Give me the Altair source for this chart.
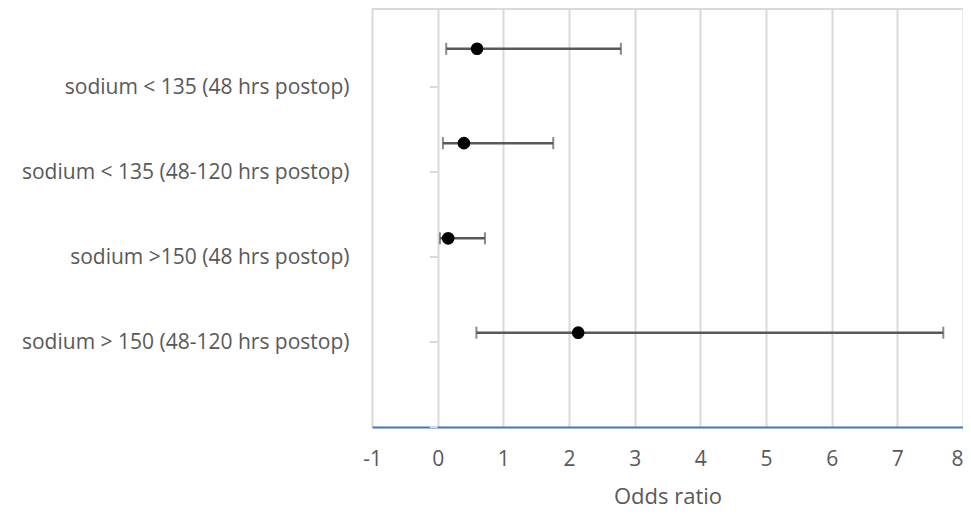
import altair as alt
import pandas as pd

categories = [
    "sodium < 135 (48 hrs postop)",
    "sodium < 135 (48-120 hrs postop)",
    "sodium >150 (48 hrs postop)",
    "sodium > 150 (48-120 hrs postop)",
]
label_pos = [4, 3, 2, 1]
odds = [0.60, 0.40, 0.16, 2.14]
lower = [0.13, 0.08, 0.035, 0.59]
upper = [2.79, 1.76, 0.72, 7.70]
row_y = [4.45, 3.34, 2.22, 1.11]
x_ticks = [-1, 0, 1, 2, 3, 4, 5, 6, 7, 8]
y_tick_vals = [0, 1, 2, 3, 4]

FONT = "Open Sans"
GRAY = "#595959"

df = pd.DataFrame({"cat": categories, "odds": odds, "lo": lower, "hi": upper, "y": row_y})
ticks_df = pd.DataFrame({"t": y_tick_vals})

label_expr = " : ".join(
    [f"datum.value == {p} ? '{c}'" for p, c in zip(label_pos, categories)]
) + " : ''"

xscale = alt.Scale(domain=[-1, 8], nice=False, zero=False)
yscale = alt.Scale(domain=[0, 4.93], nice=False, zero=False)

xaxis = alt.Axis(
    values=x_ticks, grid=True, gridColor="#d9d9d9", gridWidth=2,
    domain=True, domainColor="#4472C4", domainWidth=2,
    ticks=False, tickSize=0, labelPadding=21, labelFontSize=21, labelFont=FONT,
    labelExpr="'' + datum.value",
    labelAlign=alt.condition(f"datum.value == {x_ticks[-1]}", alt.value("right"), alt.value("center")),
    labelColor=GRAY, title="Odds ratio", titleFont=FONT, titleFontSize=22,
    titleFontWeight="normal", titleColor=GRAY, titlePadding=17,
)
yaxis = alt.Axis(
    values=label_pos, labelExpr=label_expr, grid=False, domain=False,
    ticks=False, tickSize=0, labelPadding=23, labelFontSize=21, labelFont=FONT,
    labelColor=GRAY, labelLimit=400, title=None,
)

base = alt.Chart(df)

bars = base.mark_rule(color=GRAY, strokeWidth=2.5).encode(
    x=alt.X("lo:Q", scale=xscale, axis=xaxis),
    x2="hi:Q",
    y=alt.Y("y:Q", scale=yscale, axis=yaxis),
)
cap_lo = base.mark_tick(color=GRAY, orient="vertical", size=12, thickness=2).encode(
    x=alt.X("lo:Q", scale=xscale), y=alt.Y("y:Q", scale=yscale)
)
cap_hi = base.mark_tick(color=GRAY, orient="vertical", size=12, thickness=2).encode(
    x=alt.X("hi:Q", scale=xscale), y=alt.Y("y:Q", scale=yscale)
)
dots = base.mark_circle(color="black", opacity=1, size=160).encode(
    x=alt.X("odds:Q", scale=xscale), y=alt.Y("y:Q", scale=yscale)
)
yticks = alt.Chart(ticks_df).mark_rule(color="#d9d9d9", strokeWidth=2).encode(
    x=alt.datum(0, scale=xscale), x2=alt.datum(-0.12),
    y=alt.Y("t:Q", scale=yscale),
)
top_border = alt.Chart(ticks_df).mark_rule(color="#d9d9d9", strokeWidth=2).encode(
    x=alt.value(0), x2=alt.value(591), y=alt.value(1),
)

chart = alt.layer(top_border, yticks, bars, cap_lo, cap_hi, dots).properties(
    width=591, height=419,
    autosize=alt.AutoSizeParams(type="none"),
    padding={"left": 364, "top": 0, "right": 0, "bottom": 84},
).configure_view(stroke=None).configure(background="white")

chart.save("out.html", embed_options={"renderer": "svg", "actions": False})
